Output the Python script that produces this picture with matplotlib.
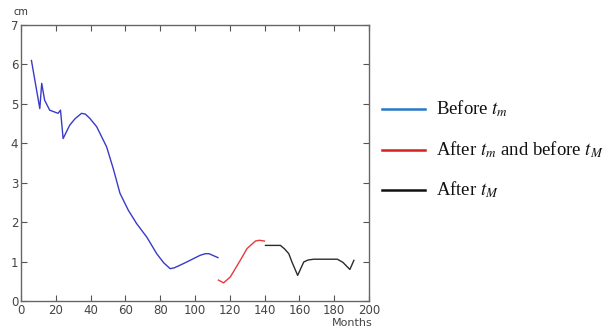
import matplotlib
matplotlib.use("Agg")
import matplotlib.pyplot as plt
from matplotlib.lines import Line2D

# Data
before_x = [6, 10.8, 11.9, 13.6, 16.5, 21.3, 22.7, 24.2, 28, 31, 34.8, 37, 39.6, 43.5, 49.2, 53,
            56.9, 61.7, 66.5, 72.3, 78, 82, 85.7, 88, 91.5, 95.3, 103, 106, 108, 113.2]
before_y = [6.1, 4.88, 5.52, 5.09, 4.84, 4.76, 4.84, 4.12, 4.46, 4.62, 4.76, 4.74, 4.63, 4.42, 3.91, 3.36,
            2.73, 2.30, 1.96, 1.62, 1.20, 0.97, 0.82, 0.84, 0.91, 0.99, 1.16, 1.20, 1.20, 1.10]
mid_x = [113.5, 116.4, 120.3, 126, 129.9, 134.7, 137, 139.9]
mid_y = [0.53, 0.46, 0.61, 1.03, 1.33, 1.52, 1.54, 1.52]
after_x = [140.5, 149.1, 151.5, 153.9, 155.8, 159, 162.5, 165, 168.3, 181.8, 185, 189, 191.3]
after_y = [1.41, 1.41, 1.32, 1.20, 0.98, 0.65, 0.99, 1.04, 1.06, 1.06, 0.98, 0.80, 1.03]

legend_labels = [r"Before $t_m$", r"After $t_m$ and before $t_M$", r"After $t_M$"]
xticks = [0, 20, 40, 60, 80, 100, 120, 140, 160, 180, 200]
yticks = [0, 1, 2, 3, 4, 5, 6, 7]

W, H = 614, 327
fig = plt.figure(figsize=(W / 100, H / 100), dpi=100)
ax = fig.add_axes([21 / W, (H - 301) / H, (369 - 21) / W, (301 - 25) / H])

ax.plot(before_x, before_y, color="#3a3ac8", lw=1.0)
ax.plot(mid_x, mid_y, color="#e8393c", lw=1.0)
ax.plot(after_x, after_y, color="#2b2b2b", lw=1.0)

ax.set_xlim(0, 200)
ax.set_ylim(0, 7)
ax.set_xticks(xticks)
ax.set_yticks(yticks)
ax.tick_params(direction="in", top=True, right=True, length=4, width=0.8,
               colors="#555555", labelsize=8.5, pad=2)
for lab in ax.get_xticklabels() + ax.get_yticklabels():
    lab.set_color("#444444")
for s in ax.spines.values():
    s.set_color("#666666")
    s.set_linewidth(1.0)

fig.text(14 / W, 1 - 12 / H, "cm", fontsize=7, color="#333333", ha="left", va="center")
fig.text(352 / W, 1 - 322.5 / H, "Months", fontsize=8, color="#444444", ha="center", va="center")

# Legend drawn by hand to the right of the axes
leg_colors = ["#2878c8", "#d62020", "#111111"]
leg_y = [109, 150, 190]
for lab, c, yy in zip(legend_labels, leg_colors, leg_y):
    fy = 1 - yy / H
    fig.add_artist(Line2D([382 / W, 425 / W], [fy, fy], color=c, lw=1.8,
                          transform=fig.transFigure))
    fig.text(436 / W, fy, lab, fontsize=13.5, family="Liberation Serif",
             math_fontfamily="stix", ha="left", va="center", color="#111111")

fig.savefig("out.png", dpi=100)
